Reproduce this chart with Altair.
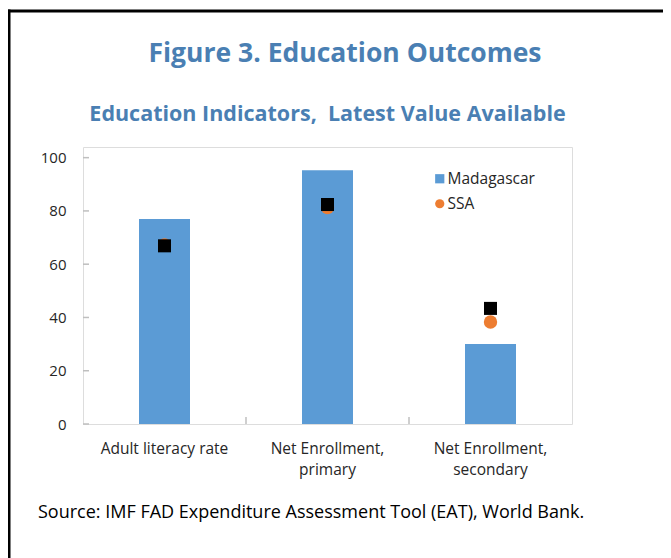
import altair as alt
import pandas as pd

categories = ["Adult literacy rate", "Net Enrollment, primary", "Net Enrollment, secondary"]
madagascar = [77.0, 95.3, 30.0]
ssa = [67.2, 81.3, 38.3]
comparator = [66.9, 82.4, 43.4]
series_names = ["Madagascar", "SSA"]
y_ticks = [0, 20, 40, 60, 80, 100]
title_text = "Figure 3. Education Outcomes"
subtitle_text = "Education Indicators,\u00a0 Latest Value Available"
source_text = "Source: IMF FAD Expenditure Assessment Tool (EAT), World Bank."

rows = []
for c, m, s, o in zip(categories, madagascar, ssa, comparator):
    rows.append({"cat": c, "series": "Madagascar", "value": m})
    rows.append({"cat": c, "series": "SSA", "value": s})
    rows.append({"cat": c, "series": "Other", "value": o})
df = pd.DataFrame(rows)
ticks_df = pd.DataFrame({"t": y_ticks})
bound_df = pd.DataFrame({"cat": categories[1:]})

BLUE = "#5b9bd5"
ORANGE = "#ed7d31"
TITLE_BLUE = "#4a7fb3"
FONT = "Open Sans"

label_expr = ("indexof(datum.label, ', ') > 0 ? "
              "[slice(datum.label, 0, indexof(datum.label, ', ') + 1), "
              "slice(datum.label, indexof(datum.label, ', ') + 2)] : datum.label")

x_enc = alt.X("cat:N", sort=categories, title=None,
              scale=alt.Scale(paddingInner=0, paddingOuter=0),
              axis=alt.Axis(labelAngle=0, labelExpr=label_expr, ticks=False, domain=False,
                            labelPadding=17, labelFontSize=15.5, labelLineHeight=21,
                            labelColor="#262626", labelFont=FONT))
y_enc = alt.Y("value:Q", title=None,
              scale=alt.Scale(domain=[0, 104], nice=False),
              axis=alt.Axis(values=y_ticks, ticks=False, domain=False, grid=False,
                            labelPadding=17, labelFontSize=15, labelColor="#262626",
                            labelFont=FONT))

color_scale = alt.Scale(domain=series_names, range=[BLUE, ORANGE])
legend = alt.Legend(title=None, orient="none", legendX=349, legendY=24,
                    labelFontSize=15.5, labelFont=FONT, labelColor="#262626",
                    symbolSize=85, rowPadding=8, padding=0, labelOffset=0,
                    symbolStrokeWidth=0)

bars = alt.Chart(df).transform_filter(alt.datum.series == "Madagascar").mark_bar(
    size=51, color=BLUE).encode(
    x=x_enc, y=y_enc,
    color=alt.Color("series:N", scale=color_scale, legend=legend),
)

circles = alt.Chart(df).transform_filter(alt.datum.series == "SSA").mark_point(
    filled=True, size=180, opacity=1).encode(
    x=alt.X("cat:N", sort=categories),
    y=alt.Y("value:Q"),
    color=alt.Color("series:N", scale=color_scale, legend=legend),
    shape=alt.Shape("series:N", scale=alt.Scale(domain=series_names, range=["square", "circle"]),
                    legend=legend),
)

squares = alt.Chart(df).transform_filter(alt.datum.series == "Other").mark_point(
    filled=True, size=170, opacity=1, shape="square", color="black").encode(
    x=alt.X("cat:N", sort=categories),
    y=alt.Y("value:Q"),
)

yticks = alt.Chart(ticks_df).mark_rule(color="#bfbfbf", strokeWidth=1.5).encode(
    y=alt.Y("t:Q"), x=alt.value(0), x2=alt.value(6))

xticks = alt.Chart(bound_df).mark_rule(color="#bfbfbf", strokeWidth=1.5).encode(
    x=alt.X("cat:N", sort=categories, bandPosition=0), y=alt.value(277), y2=alt.value(270))

title = alt.Chart(pd.DataFrame({"t": [title_text]})).mark_text(
    font=FONT, fontSize=26.5, fontWeight="bold", color=TITLE_BLUE, align="center",
    baseline="middle").encode(text="t:N", x=alt.value(262), y=alt.value(-93))

subtitle = alt.Chart(pd.DataFrame({"t": [subtitle_text]})).mark_text(
    font=FONT, fontSize=21.5, fontWeight="bold", color=TITLE_BLUE, align="center",
    baseline="middle").encode(text="t:N", x=alt.value(244.5), y=alt.value(-32.5))

source = alt.Chart(pd.DataFrame({"t": [source_text]})).mark_text(
    font=FONT, fontSize=18, color="black", align="left",
    baseline="middle").encode(text="t:N", x=alt.value(-45), y=alt.value(366))

frame_v = alt.Chart(pd.DataFrame({"a": [0]})).mark_rule(color="black", strokeWidth=3).encode(
    x=alt.value(-74), y=alt.value(-137.5), y2=alt.value(420))
frame_h = alt.Chart(pd.DataFrame({"a": [0]})).mark_rule(color="black", strokeWidth=3).encode(
    x=alt.value(-75.5), x2=alt.value(620), y=alt.value(-136))

chart = alt.layer(bars, circles, squares, yticks, xticks, title, subtitle, source,
                  frame_v, frame_h).resolve_scale(
    color="shared", shape="shared").properties(
    width=489, height=277,
    autosize=alt.AutoSizeParams(type="none"),
    padding={"left": 75, "top": 139, "right": 91, "bottom": 134},
).configure_view(stroke="#bfbfbf", strokeWidth=1.5).configure(background="white")

chart.save("out.html", embed_options={"renderer": "svg", "actions": False})
